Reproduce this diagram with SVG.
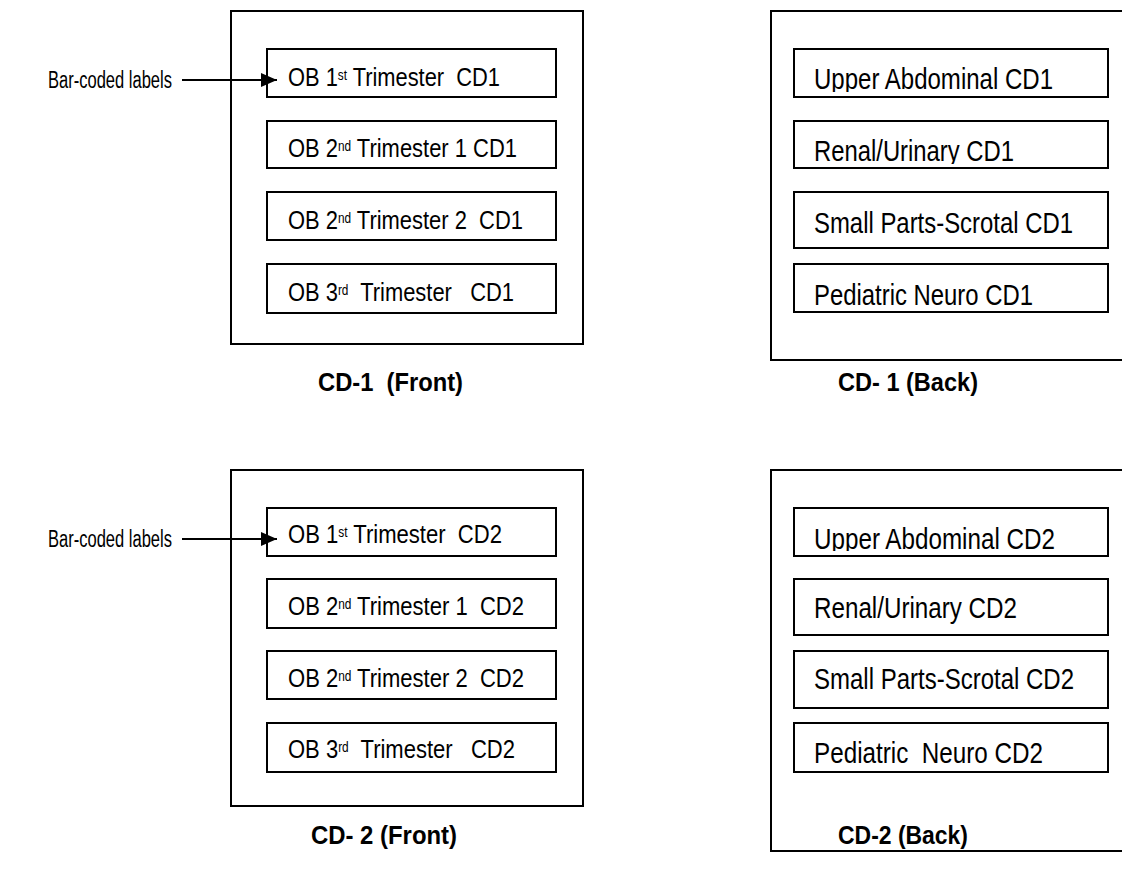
<svg xmlns="http://www.w3.org/2000/svg" width="1122" height="871" viewBox="0 0 1122 871">
<style>
.bg{fill:#ffffff}
.outer{fill:none;stroke:#000;stroke-width:2}
.inner{fill:#fff;stroke:#000;stroke-width:2}
.t{font-family:"Liberation Sans Narrow","Arial Narrow","Liberation Sans",Arial,sans-serif;fill:#000;white-space:pre}
.l{font-size:26px}
.r{font-size:29px}
.s{font-size:14px}
.cap{font-size:25px;font-weight:bold}
.bl{font-size:23px}
.conn{stroke:#000;stroke-width:2;fill:none}
</style>
<defs>
<marker id="ah" markerWidth="8" markerHeight="7" refX="8" refY="3.5" orient="auto" markerUnits="strokeWidth"><path d="M0,0 L8,3.5 L0,7 Z" fill="#000"/></marker>
<clipPath id="c1"><rect x="795" y="50" width="312" height="42"/></clipPath>
<clipPath id="c2"><rect x="795" y="122" width="312" height="42"/></clipPath>
<clipPath id="c3"><rect x="795" y="509" width="312" height="42"/></clipPath>
</defs>
<rect class="bg" x="0" y="0" width="1122" height="871"/>

<g id="cd1-front">
<rect class="outer" x="231" y="11" width="352" height="333"/>
<g id="cd1f-1"><rect class="inner" x="267" y="49" width="289" height="48"/><text class="t l" x="288" y="86" xml:space="preserve" textLength="212" lengthAdjust="spacingAndGlyphs">OB 1<tspan class="s" dy="-6">st</tspan><tspan dy="6"> Trimester  CD1</tspan></text></g>
<g id="cd1f-2"><rect class="inner" x="267" y="121" width="289" height="47"/><text class="t l" x="288" y="157" xml:space="preserve" textLength="229" lengthAdjust="spacingAndGlyphs">OB 2<tspan class="s" dy="-6">nd</tspan><tspan dy="6"> Trimester 1 CD1</tspan></text></g>
<g id="cd1f-3"><rect class="inner" x="267" y="192" width="289" height="48"/><text class="t l" x="288" y="229" xml:space="preserve" textLength="235" lengthAdjust="spacingAndGlyphs">OB 2<tspan class="s" dy="-6">nd</tspan><tspan dy="6"> Trimester 2  CD1</tspan></text></g>
<g id="cd1f-4"><rect class="inner" x="267" y="264" width="289" height="49"/><text class="t l" x="288" y="301" xml:space="preserve" textLength="226" lengthAdjust="spacingAndGlyphs">OB 3<tspan class="s" dy="-6">rd</tspan><tspan dy="6">  Trimester   CD1</tspan></text></g>
</g>

<g id="cd1-back">
<rect class="outer" x="771" y="11" width="380" height="349"/>
<g id="cd1b-1"><rect class="inner" x="794" y="49" width="314" height="48"/><text class="t r" x="814" y="89" textLength="239" lengthAdjust="spacingAndGlyphs" clip-path="url(#c1)">Upper Abdominal CD1</text></g>
<g id="cd1b-2"><rect class="inner" x="794" y="121" width="314" height="47"/><text class="t r" x="814" y="161" textLength="200" lengthAdjust="spacingAndGlyphs" clip-path="url(#c2)">Renal/Urinary CD1</text></g>
<g id="cd1b-3"><rect class="inner" x="794" y="192" width="314" height="56"/><text class="t r" x="814" y="233" textLength="259" lengthAdjust="spacingAndGlyphs">Small Parts-Scrotal CD1</text></g>
<g id="cd1b-4"><rect class="inner" x="794" y="264" width="314" height="48"/><text class="t r" x="814" y="305" textLength="219" lengthAdjust="spacingAndGlyphs">Pediatric Neuro CD1</text></g>
</g>

<g id="cd2-front">
<rect class="outer" x="231" y="470" width="352" height="336"/>
<g id="cd2f-1"><rect class="inner" x="267" y="508" width="289" height="48"/><text class="t l" x="288" y="543" xml:space="preserve" textLength="214" lengthAdjust="spacingAndGlyphs">OB 1<tspan class="s" dy="-6">st</tspan><tspan dy="6"> Trimester  CD2</tspan></text></g>
<g id="cd2f-2"><rect class="inner" x="267" y="579" width="289" height="49"/><text class="t l" x="288" y="615" xml:space="preserve" textLength="236" lengthAdjust="spacingAndGlyphs">OB 2<tspan class="s" dy="-6">nd</tspan><tspan dy="6"> Trimester 1  CD2</tspan></text></g>
<g id="cd2f-3"><rect class="inner" x="267" y="651" width="289" height="48"/><text class="t l" x="288" y="687" xml:space="preserve" textLength="236" lengthAdjust="spacingAndGlyphs">OB 2<tspan class="s" dy="-6">nd</tspan><tspan dy="6"> Trimester 2  CD2</tspan></text></g>
<g id="cd2f-4"><rect class="inner" x="267" y="723" width="289" height="49"/><text class="t l" x="288" y="758" xml:space="preserve" textLength="227" lengthAdjust="spacingAndGlyphs">OB 3<tspan class="s" dy="-6">rd</tspan><tspan dy="6">  Trimester   CD2</tspan></text></g>
</g>

<g id="cd2-back">
<rect class="outer" x="771" y="470" width="380" height="381"/>
<g id="cd2b-1"><rect class="inner" x="794" y="508" width="314" height="48"/><text class="t r" x="814" y="549" textLength="241" lengthAdjust="spacingAndGlyphs" clip-path="url(#c3)">Upper Abdominal CD2</text></g>
<g id="cd2b-2"><rect class="inner" x="794" y="579" width="314" height="56"/><text class="t r" x="814" y="618" textLength="203" lengthAdjust="spacingAndGlyphs">Renal/Urinary CD2</text></g>
<g id="cd2b-3"><rect class="inner" x="794" y="651" width="314" height="57"/><text class="t r" x="814" y="689" textLength="260" lengthAdjust="spacingAndGlyphs">Small Parts-Scrotal CD2</text></g>
<g id="cd2b-4"><rect class="inner" x="794" y="723" width="314" height="49"/><text class="t r" x="814" y="763" xml:space="preserve" textLength="229" lengthAdjust="spacingAndGlyphs">Pediatric  Neuro CD2</text></g>
</g>

<g id="captions">
<text class="t cap" x="318" y="391" xml:space="preserve" textLength="145" lengthAdjust="spacingAndGlyphs">CD-1  (Front)</text>
<text class="t cap" x="838" y="391" textLength="140" lengthAdjust="spacingAndGlyphs">CD- 1 (Back)</text>
<text class="t cap" x="311" y="844" textLength="146" lengthAdjust="spacingAndGlyphs">CD- 2 (Front)</text>
<text class="t cap" x="838" y="844" textLength="130" lengthAdjust="spacingAndGlyphs">CD-2 (Back)</text>
</g>

<g id="bar-label-1"><text class="t bl" x="48" y="88" textLength="124" lengthAdjust="spacingAndGlyphs">Bar-coded labels</text></g>
<g id="bar-label-2"><text class="t bl" x="48" y="547" textLength="124" lengthAdjust="spacingAndGlyphs">Bar-coded labels</text></g>

<g id="connectors">
<line class="conn" x1="182" y1="80" x2="277" y2="80" marker-end="url(#ah)"/>
<line class="conn" x1="182" y1="539" x2="277" y2="539" marker-end="url(#ah)"/>
</g>
</svg>
